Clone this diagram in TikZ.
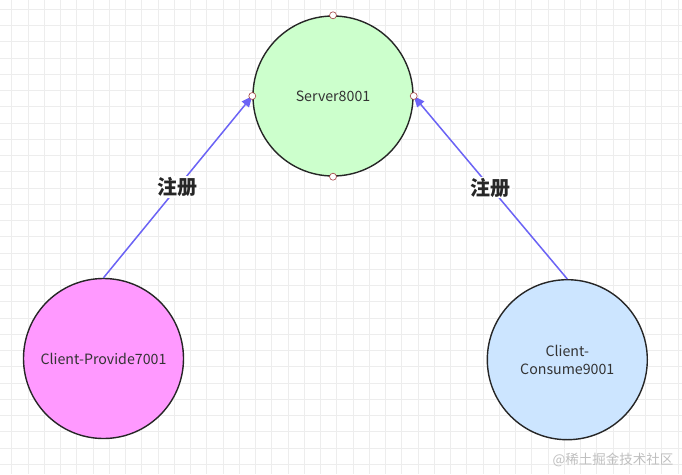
\documentclass[tikz,border=0pt]{standalone}
\usepackage{fontspec}
\setmainfont{Noto Sans CJK SC}
\usetikzlibrary{arrows.meta}
\definecolor{gridc}{HTML}{EDEDED}
\definecolor{arrc}{HTML}{6B63F5}
\definecolor{srvfill}{HTML}{CCFFCC}
\definecolor{provfill}{HTML}{FF99FF}
\definecolor{consfill}{HTML}{CCE5FF}
\definecolor{txtc}{HTML}{333333}
\definecolor{markc}{HTML}{A04040}
\tikzset{
  circ/.style={circle, draw=black!85, line width=1.4pt, minimum size=160pt, inner sep=0pt, text=txtc, font=\fontsize{14.2}{18.5}\selectfont, align=center},
  arr/.style={draw=arrc, line width=1.5pt, -{Triangle[length=11pt,width=9pt]}},
  lab/.style={fill=white, inner sep=1pt, text=black!85, font=\fontsize{20}{22}\selectfont\bfseries},
  cmark/.style={circle, draw=markc, fill=white, line width=0.6pt, minimum size=7pt, inner sep=0pt},
}
\begin{document}
\begin{tikzpicture}[x=1pt,y=-1pt]
\useasboundingbox (0,0) rectangle (682,474);
\fill[white] (0,0) rectangle (682,474);
\foreach \i in {0,...,41} {
  \draw[gridc, line width=0.8pt] ({11.7+16.25*\i},0) -- ({11.7+16.25*\i},474);
}
\foreach \j in {0,...,29} {
  \draw[gridc, line width=0.8pt] (0,{9.3+16.25*\j}) -- (682,{9.3+16.25*\j});
}
\node[circ, fill=srvfill] (srv) at (333,96) {Server8001};
\node[circ, fill=provfill] (prov) at (103.5,358.5) {Client-Provide7001};
\node[circ, fill=consfill] (cons) at (567.3,359.7) {Client-\\Consume9001};
\draw[arr] (prov.north) -- (srv.west) node[midway, lab] {注册};
\draw[arr] (cons.north) -- (srv.east) node[midway, lab] {注册};
\node[cmark] (m1) at (srv.north) {};
\node[cmark] (m2) at (srv.south) {};
\node[cmark] (m3) at (srv.west) {};
\node[cmark] (m4) at (srv.east) {};
\node[text=black!25, font=\fontsize{13.5}{15}\selectfont, anchor=east] (wm) at (677,460) {@稀土掘金技术社区};
\end{tikzpicture}
\end{document}
